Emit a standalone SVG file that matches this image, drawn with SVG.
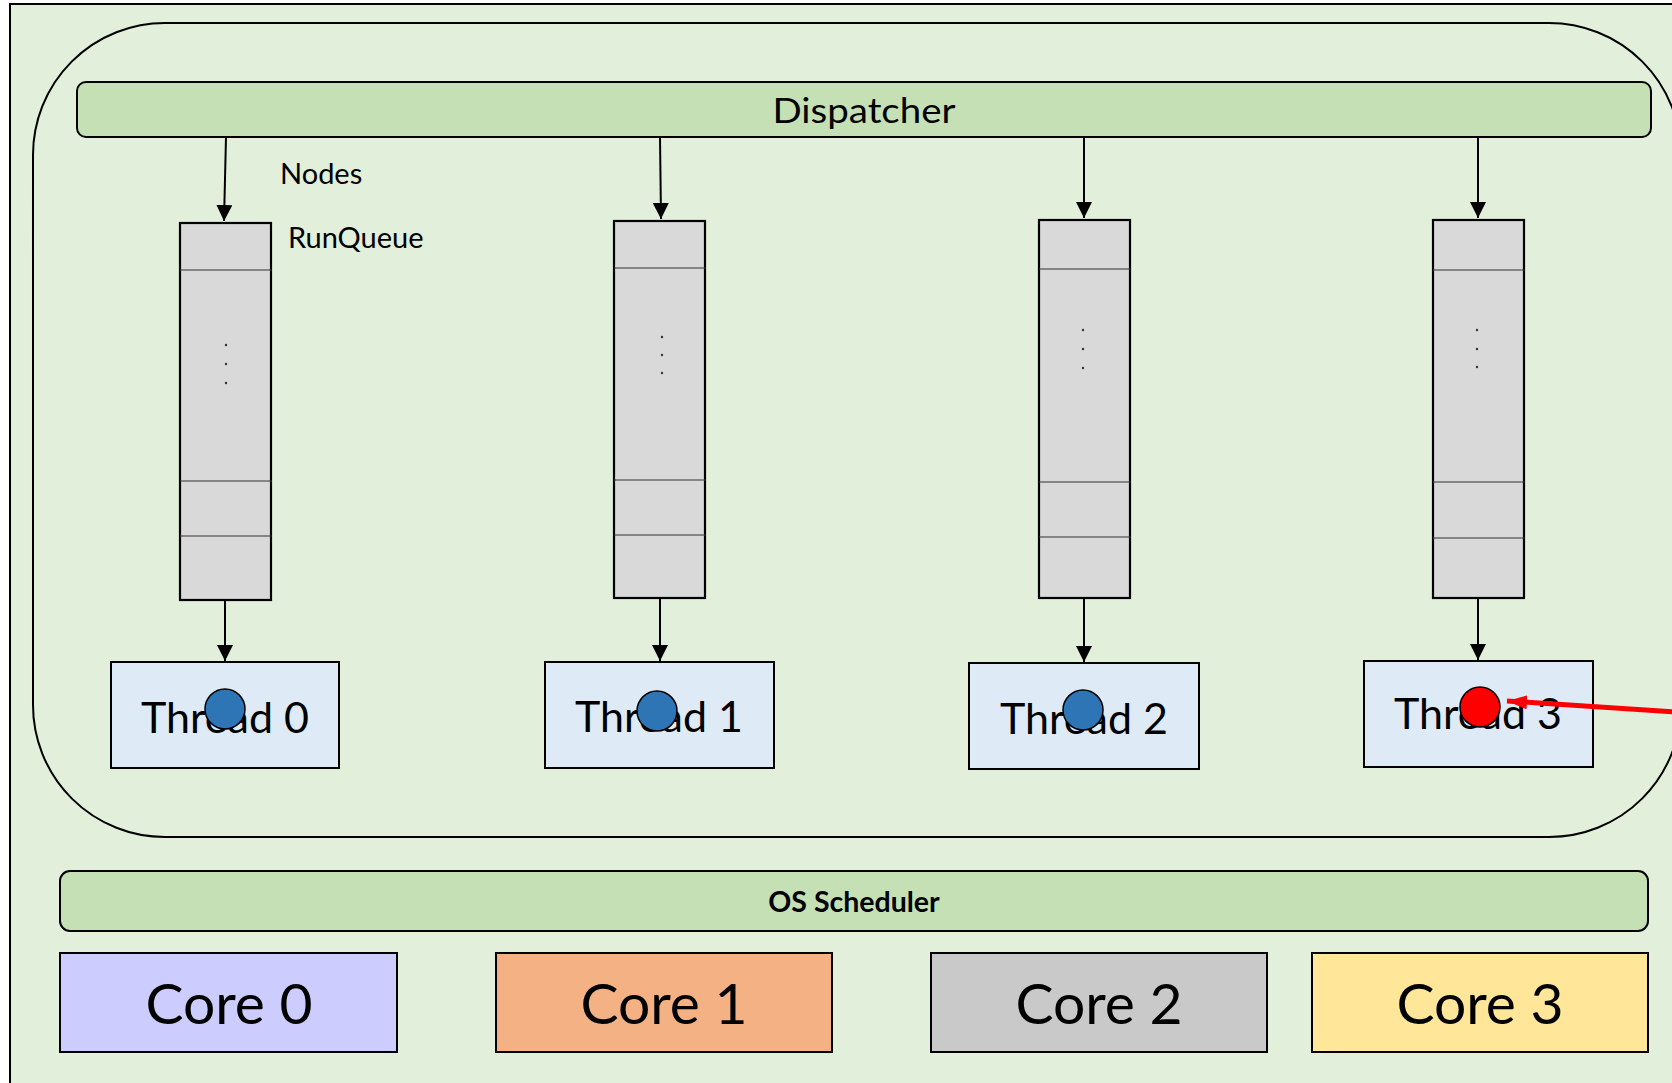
<svg xmlns="http://www.w3.org/2000/svg" width="1672" height="1083" viewBox="0 0 1672 1083">
  <defs>
    <style>
      text { font-family: Lato, "Liberation Sans", Arial, sans-serif; fill: #000; }
      .bar { fill: #C5E0B4; stroke: #000; stroke-width: 2; }
      .queue { fill: #D9D9D9; stroke: #000; stroke-width: 2.2; }
      .slot { stroke: #333; stroke-width: 1.2; fill: none; }
      .dot { fill: #333; }
      .thread { fill: #DEEBF7; stroke: #000; stroke-width: 2; }
      .thread-label { font-size: 43px; text-anchor: middle; }
      .core { stroke: #000; stroke-width: 2; }
      .core-label { font-size: 57px; text-anchor: middle; }
      .task { fill: #2E75B6; stroke: #000; stroke-width: 1.5; }
      .edge { stroke: #000; stroke-width: 2; fill: none; marker-end: url(#arrow); }
    </style>
    <marker id="arrow" markerUnits="userSpaceOnUse" markerWidth="16" markerHeight="16" viewBox="0 0 16 16" refX="16" refY="8" orient="auto">
      <path d="M0,0 L16,8 L0,16 Z" fill="#000"/>
    </marker>
    <marker id="arrow-red" markerUnits="userSpaceOnUse" markerWidth="20" markerHeight="14" viewBox="0 0 20 14" refX="20" refY="7" orient="auto">
      <path d="M0,0 L20,7 L0,14 Z" fill="#FF0000"/>
    </marker>
  </defs>

  <!-- page background -->
  <rect x="0" y="0" width="1672" height="1083" fill="#FFFFFF"/>
  <rect id="frame" x="10" y="4" width="1680" height="1100" fill="#E2EFDA" stroke="#000" stroke-width="2"/>

  <!-- process container -->
  <rect id="process" x="33" y="23" width="1648" height="814" rx="132" ry="132" fill="none" stroke="#000" stroke-width="2"/>

  <g id="dispatcher">
    <rect class="bar" x="77" y="82" width="1574" height="55" rx="9" ry="9"/>
    <text x="864" y="123" font-size="35" text-anchor="middle" textLength="183" lengthAdjust="spacingAndGlyphs">Dispatcher</text>
  </g>

  <g id="labels">
    <text x="280" y="184" font-size="29">Nodes</text>
    <text x="288" y="248" font-size="29">RunQueue</text>
  </g>

  <g id="runqueue-0">
    <rect class="queue" x="180" y="223" width="91" height="377"/>
    <line class="slot" x1="180" y1="270" x2="272" y2="270"/>
    <line class="slot" x1="180" y1="481" x2="272" y2="481"/>
    <line class="slot" x1="180" y1="536" x2="272" y2="536"/>
    <circle class="dot" cx="226" cy="345" r="1.2"/>
    <circle class="dot" cx="226" cy="364" r="1.2"/>
    <circle class="dot" cx="226" cy="383" r="1.2"/>
  </g>
  <g id="runqueue-1">
    <rect class="queue" x="614" y="221" width="91" height="377"/>
    <line class="slot" x1="614" y1="268" x2="706" y2="268"/>
    <line class="slot" x1="614" y1="480" x2="706" y2="480"/>
    <line class="slot" x1="614" y1="535" x2="706" y2="535"/>
    <circle class="dot" cx="662" cy="337" r="1.2"/>
    <circle class="dot" cx="662" cy="355" r="1.2"/>
    <circle class="dot" cx="662" cy="373" r="1.2"/>
  </g>
  <g id="runqueue-2">
    <rect class="queue" x="1039" y="220" width="91" height="378"/>
    <line class="slot" x1="1039" y1="269" x2="1131" y2="269"/>
    <line class="slot" x1="1039" y1="482" x2="1131" y2="482"/>
    <line class="slot" x1="1039" y1="537" x2="1131" y2="537"/>
    <circle class="dot" cx="1083" cy="330" r="1.2"/>
    <circle class="dot" cx="1083" cy="349" r="1.2"/>
    <circle class="dot" cx="1083" cy="368" r="1.2"/>
  </g>
  <g id="runqueue-3">
    <rect class="queue" x="1433" y="220" width="91" height="378"/>
    <line class="slot" x1="1433" y1="270" x2="1525" y2="270"/>
    <line class="slot" x1="1433" y1="482" x2="1525" y2="482"/>
    <line class="slot" x1="1433" y1="538" x2="1525" y2="538"/>
    <circle class="dot" cx="1477" cy="330" r="1.2"/>
    <circle class="dot" cx="1477" cy="349" r="1.2"/>
    <circle class="dot" cx="1477" cy="367" r="1.2"/>
  </g>

  <g id="thread-0">
    <rect class="thread" x="111" y="662" width="228" height="106"/>
    <text class="thread-label" x="225" y="733">Thread 0</text>
    <circle class="task" cx="225" cy="709" r="20"/>
  </g>
  <g id="thread-1">
    <rect class="thread" x="545" y="662" width="229" height="106"/>
    <text class="thread-label" x="659" y="732">Thread 1</text>
    <circle class="task" cx="657" cy="711" r="20"/>
  </g>
  <g id="thread-2">
    <rect class="thread" x="969" y="663" width="230" height="106"/>
    <text class="thread-label" x="1084" y="734">Thread 2</text>
    <circle class="task" cx="1083" cy="710" r="20"/>
  </g>
  <g id="thread-3">
    <rect class="thread" x="1364" y="661" width="229" height="106"/>
    <text class="thread-label" x="1478" y="729">Thread 3</text>
    <circle cx="1480" cy="707" r="20" fill="#FF0000" stroke="#000" stroke-width="1.5"/>
  </g>

  <!-- connectors drawn above the boxes so the incoming red arrow overlays Thread 3 -->
  <g id="connectors">
    <line class="edge" x1="226" y1="137" x2="224" y2="221"/>
    <line class="edge" x1="660" y1="137" x2="661" y2="219"/>
    <line class="edge" x1="1084" y1="137" x2="1084" y2="218"/>
    <line class="edge" x1="1478" y1="137" x2="1478" y2="218"/>
    <line class="edge" x1="225" y1="600" x2="225" y2="661"/>
    <line class="edge" x1="660" y1="598" x2="660" y2="661"/>
    <line class="edge" x1="1084" y1="598" x2="1084" y2="662"/>
    <line class="edge" x1="1478" y1="598" x2="1478" y2="660"/>
    <line x1="1690" y1="713" x2="1507" y2="701" stroke="#FF0000" stroke-width="5" marker-end="url(#arrow-red)"/>
  </g>

  <g id="os-scheduler">
    <rect class="bar" x="60" y="871" width="1588" height="60" rx="10" ry="10"/>
    <text x="854" y="912" font-size="28.5" font-weight="bold" text-anchor="middle">OS Scheduler</text>
  </g>

  <g id="core-0">
    <rect class="core" x="60" y="953" width="337" height="99" fill="#CCCCFF"/>
    <text class="core-label" x="229" y="1024">Core 0</text>
  </g>
  <g id="core-1">
    <rect class="core" x="496" y="953" width="336" height="99" fill="#F4B183"/>
    <text class="core-label" x="664" y="1024">Core 1</text>
  </g>
  <g id="core-2">
    <rect class="core" x="931" y="953" width="336" height="99" fill="#C9C9C9"/>
    <text class="core-label" x="1099" y="1024">Core 2</text>
  </g>
  <g id="core-3">
    <rect class="core" x="1312" y="953" width="336" height="99" fill="#FFE699"/>
    <text class="core-label" x="1480" y="1024">Core 3</text>
  </g>
</svg>
